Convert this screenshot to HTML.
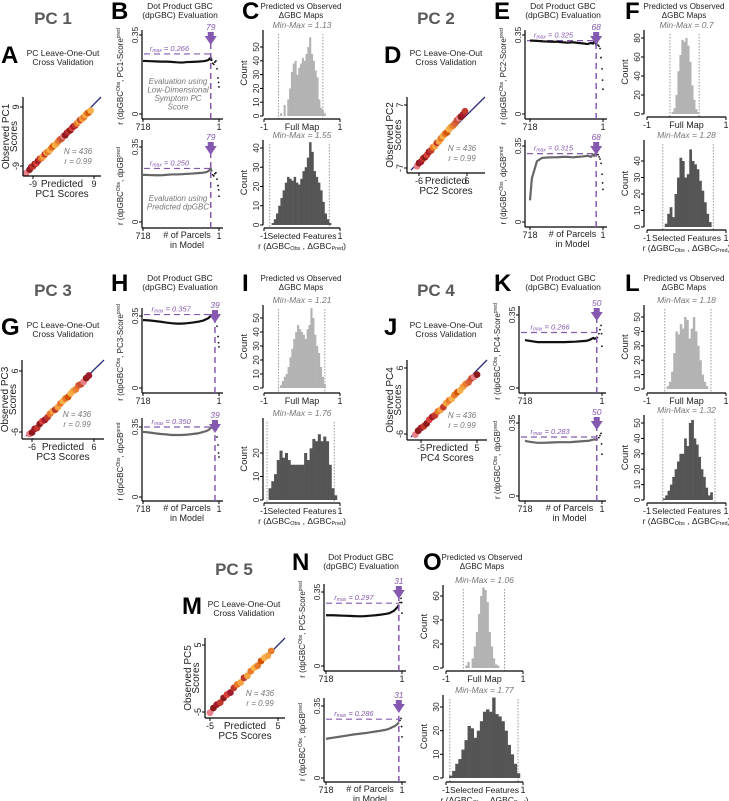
<!DOCTYPE html>
<html><head><meta charset="utf-8"><style>
html,body{margin:0;padding:0;background:#fff;}
svg{display:block;font-family:"Liberation Sans",Arial,sans-serif;}
</style></head><body>
<svg id="fig" width="729" height="801" viewBox="0 0 729 801" xmlns="http://www.w3.org/2000/svg"></svg>
<script>
// ---------- DATA ----------
const parcels = [718,700,650,600,550,500,450,400,350,300,250,200,150,120,100,90,80,70,60,50,40,30,20,10,5,1];
const pcNames = ['PC 1','PC 2','PC 3','PC 4','PC 5'];
const markers = [79,68,39,50,31];
const rmaxTop = [0.266,0.325,0.357,0.266,0.297];
const rmaxBottom = [0.250,0.315,0.350,0.283,0.286];
const minMaxFull = ['1.13','0.7','1.21','1.18','1.06'];
const minMaxSel = ['1.55','1.28','1.76','1.32','1.77'];

const pc1TopLine = [.235,.235,.234,.233,.232,.232,.231,.229,.228,.23,.231,.232,.234,.236,.24,.245,.25,.235,.225,.22,.23,.235,.2,.16,.14,.12];
const pc1BottomLine = [.22,.22,.219,.218,.218,.22,.222,.222,.223,.225,.226,.228,.23,.233,.238,.243,.25,.235,.22,.215,.225,.23,.2,.17,.15,.12];
const pc2TopLine = [.325,.325,.324,.322,.321,.32,.32,.318,.316,.318,.315,.313,.31,.315,.312,.318,.325,.31,.315,.305,.3,.29,.25,.2,.15,.11];
const pc2BottomLine = [.1,.2,.28,.295,.297,.298,.298,.3,.3,.298,.3,.302,.305,.3,.31,.305,.312,.315,.308,.31,.3,.29,.27,.22,.18,.15];
const pc3TopLine = [.33,.33,.328,.325,.322,.318,.315,.313,.313,.315,.318,.322,.328,.335,.34,.345,.35,.352,.355,.357,.357,.34,.3,.25,.22,.2];
const pc3BottomLine = [.325,.325,.322,.318,.315,.313,.31,.31,.31,.312,.315,.318,.325,.33,.335,.34,.345,.348,.35,.35,.35,.33,.3,.26,.22,.2];
const pc4TopLine = [.23,.228,.224,.22,.22,.22,.22,.22,.22,.221,.222,.224,.226,.23,.235,.238,.24,.236,.238,.24,.245,.26,.28,.3,.26,.2];
const pc4BottomLine = [.265,.262,.258,.255,.255,.256,.257,.258,.258,.258,.26,.262,.264,.265,.268,.27,.27,.272,.27,.272,.275,.28,.29,.3,.25,.2];
const pc5TopLine = [.24,.24,.24,.239,.238,.237,.236,.235,.236,.238,.24,.243,.247,.25,.255,.258,.26,.265,.27,.275,.28,.29,.3,.32,.3,.25];
const pc5BottomLine = [.19,.192,.196,.2,.204,.208,.212,.215,.218,.222,.226,.23,.235,.24,.245,.248,.25,.252,.256,.26,.265,.27,.28,.29,.25,.2];

const pc1HistFull = [2,0,8,0,12,20,32,38,40,30,35,38,42,40,45,50,57,45,40,33,28,12,6,4,2];
const pc1HistSel = [1,3,6,10,14,18,22,25,24,23,25,22,21,24,28,30,35,43,38,28,25,22,18,12,6,3,1];
const pc2HistFull = [2,6,20,45,62,78,76,80,72,55,30,15,5,2];
const pc2HistSel = [2,8,12,6,20,30,42,40,30,32,47,40,38,35,28,22,15,8,3];
const pc3HistFull = [2,5,8,10,15,22,28,35,40,45,42,40,38,35,42,45,57,50,38,30,25,15,8,3];
const pc3HistSel = [5,8,11,17,21,18,20,17,15,15,15,15,15,20,17,22,26,25,28,25,27,25,15,5,2];
const pc4HistFull = [2,5,12,25,40,38,45,42,50,48,35,42,50,40,30,20,10,5,2];
const pc4HistSel = [1,3,6,10,15,20,25,30,30,40,35,50,52,40,36,28,20,15,8,3,5];
const pc5HistFull = [2,5,0,8,18,30,45,60,67,65,55,30,18,8,3,2];
const pc5HistSel = [1,3,6,8,12,16,22,21,17,20,24,28,29,28,34,27,26,24,20,14,10,6,2];
const histFullStart = [-0.58,-0.38,-0.58,-0.5,-0.5];
const histFullWidth = [0.048,0.05,0.05,0.055,0.055];
const histSelStart = [-0.8,-0.55,-0.88,-0.6,-0.92];
const histSelWidth = [0.058,0.062,0.072,0.06,0.08];
const dottedFull = [[-0.62,0.55],[-0.42,0.32],[-0.62,0.6],[-0.55,0.62],[-0.55,0.52]];
const dottedSel = [[-0.85,0.72],[-0.6,0.68],[-0.92,0.85],[-0.6,0.72],[-0.9,0.87]];
const fullTicks = [[0,10,20,30,40,50],[0,20,40,60,80],[0,10,20,30,40,50],[0,10,20,30,40,50],[0,20,40,60]];
const selTicks = [[0,10,20,30,40],[0,10,20,30,40],[0,10,20],[0,10,20,30,40,50],[0,10,20,30]];

const pc1Pred = [-11,-10,-9.5,-9,-8.5,-8,-7.5,-7,-6.5,-6,-5.5,-5,-4.5,-4,-3.5,-3,-2.5,-2,-1.5,-1,-0.5,0,0.5,1,1.5,2,2.5,3,3.5,4,4.5,5,5.5,6,6.5,7,7.5,8];
const pc1Obs  = [-11.2,-10.1,-9.3,-9.1,-8.4,-8.2,-7.4,-6.8,-6.6,-6.1,-5.4,-4.9,-4.6,-4.1,-3.4,-2.9,-2.6,-2.1,-1.4,-0.9,-0.6,0.1,0.4,1.1,1.6,1.9,2.6,3.1,3.4,4.0,4.6,5.1,5.4,5.9,6.6,7.1,7.4,7.9];
const pc2Pred = [-6.5,-6,-5.5,-5,-4.5,-4,-3.5,-3,-2.5,-2,-1.5,-1,-0.5,0,0.5,1,1.5,2,2.5,3,3.5,4,4.5,5,5.5];
const pc2Obs  = [-6.6,-5.9,-5.6,-4.9,-4.6,-4.1,-3.4,-3.1,-2.4,-2.1,-1.4,-1.1,-0.4,0.1,0.6,0.9,1.6,2.1,2.4,2.9,3.6,4.1,4.4,4.9,5.6];
const pc3Pred = [-6.5,-6,-5.5,-5,-4.5,-4,-3.5,-3,-2.5,-2,-1.5,-1,-0.5,0,0.5,1,1.5,2,2.5,3,3.5,4,4.5,5];
const pc3Obs  = [-6.4,-6.1,-5.4,-5.2,-4.4,-3.9,-3.6,-3.1,-2.4,-1.9,-1.6,-1.1,-0.4,0.1,0.6,0.9,1.6,2.1,2.4,3.2,3.4,3.9,4.6,5.1];
const pc4Pred = [-6,-5.5,-5,-4.5,-4,-3.5,-3,-2.5,-2,-1.5,-1,-0.5,0,0.5,1,1.5,2,2.5,3,3.5,4,4.5,5];
const pc4Obs  = [-6.1,-5.4,-4.9,-4.6,-4.1,-3.4,-2.9,-2.6,-1.9,-1.6,-1.1,-0.4,0.1,0.4,1.1,1.6,1.9,2.6,3.1,3.4,4.1,4.4,4.8];
const pc5Pred = [-5,-4.5,-4,-3.5,-3,-2.5,-2,-1.5,-1,-0.5,0,0.5,1,1.5,2,2.5,3,3.5,4];
const pc5Obs  = [-5.1,-4.4,-3.9,-3.6,-2.9,-2.4,-2.1,-1.4,-0.9,-0.6,0.1,0.4,1.1,1.6,1.9,2.6,3.1,3.4,4.1];
const scatterColors = ['#e8808a','#8b1a1a','#a01c2c','#c0392b','#8b1a1a','#d9413a','#a01c2c','#c0392b','#e8782a','#f4a340','#c0392b','#f4a340','#e8782a','#f8b24c','#e8782a','#d35400','#f8b24c','#f4a340','#e88030','#d9603a','#c85030'];

// ---------- LAYOUT (positions only) ----------
const layout = [
 {dx:0,dy:0, sc:{l:23,r:101,t:97,b:176,xm:33,xp:94,ym:166,yp:107,tx:9,ty:9},
  lt:{sx:142,ax:119,x718:143,x1:219,y0:114,y35:35,top:30},
  lb:{sx:142,ax:228,x718:143,x1:219,y0:222,y35:147,top:140},
  ht:{sx:263,ax:119,xm:264,xp:340,y0:116,tv:50,ty:47,top:30},
  hb:{sx:263,ax:228,xm:264,xp:340,y0:225,tv:40,ty:148,top:140}},
 {dx:383,dy:0, sc:{l:407,r:485,t:97,b:173,xm:419,xp:467,ym:168,yp:105,tx:6,ty:7},
  lt:{sx:525,ax:119,x718:530,x1:603,y0:114,y35:35,top:30},
  lb:{sx:525,ax:227,x718:530,x1:603,y0:222,y35:146,top:140},
  ht:{sx:644,ax:117,xm:647,xp:726,y0:114,tv:80,ty:38,top:30},
  hb:{sx:644,ax:230,xm:647,xp:726,y0:227,tv:40,ty:161,top:140}},
 {dx:0,dy:272, sc:{l:22,r:104,t:360,b:439,xm:32,xp:94,ym:432,yp:371,tx:6,ty:6},
  lt:{sx:142,ax:393,x718:143,x1:219,y0:388,y35:316,top:308},
  lb:{sx:142,ax:501,x718:143,x1:219,y0:497,y35:427,top:418},
  ht:{sx:263,ax:393,xm:264,xp:340,y0:388,tv:50,ty:318,top:305},
  hb:{sx:263,ax:503,xm:264,xp:340,y0:500,tv:20,ty:453,top:418}},
 {dx:383,dy:272, sc:{l:407,r:487,t:360,b:440,xm:421,xp:477,ym:434,yp:368,tx:5,ty:6},
  lt:{sx:519,ax:393,x718:525,x1:602,y0:388,y35:315,top:306},
  lb:{sx:519,ax:501,x718:525,x1:602,y0:496,y35:423,top:415},
  ht:{sx:644,ax:393,xm:647,xp:726,y0:389,tv:50,ty:317,top:305},
  hb:{sx:644,ax:503,xm:647,xp:726,y0:500,tv:50,ty:423,top:415}},
 {dx:181,dy:551, sc:{l:205,r:285,t:638,b:718,xm:210,xp:278,ym:712,yp:645,tx:5,ty:5},
  lt:{sx:324,ax:671,x718:326,x1:402,y0:666,y35:592,top:584},
  lb:{sx:324,ax:782,x718:326,x1:402,y0:778,y35:706,top:698},
  ht:{sx:443,ax:671,xm:446,xp:523,y0:668,tv:60,ty:596,top:585},
  hb:{sx:443,ax:782,xm:446,xp:523,y0:778,tv:30,ty:707,top:695}}
];
const letters = [['A','B','C'],['D','E','F'],['G','H','I'],['J','K','L'],['M','N','O']];
const allTop=[pc1TopLine,pc2TopLine,pc3TopLine,pc4TopLine,pc5TopLine];
const allBot=[pc1BottomLine,pc2BottomLine,pc3BottomLine,pc4BottomLine,pc5BottomLine];
const allHF=[pc1HistFull,pc2HistFull,pc3HistFull,pc4HistFull,pc5HistFull];
const allHS=[pc1HistSel,pc2HistSel,pc3HistSel,pc4HistSel,pc5HistSel];
const allPred=[pc1Pred,pc2Pred,pc3Pred,pc4Pred,pc5Pred];
const allObs=[pc1Obs,pc2Obs,pc3Obs,pc4Obs,pc5Obs];

const NS='http://www.w3.org/2000/svg';
const svg=document.getElementById('fig');
const PURPLE='#8559b0';
function el(tag,attrs,parent){const e=document.createElementNS(NS,tag);for(const k in attrs)e.setAttribute(k,attrs[k]);(parent||svg).appendChild(e);return e;}
function txt(parent,x,y,s,o){o=o||{};const t=el('text',{x:x,y:y,'font-size':o.fs||9,'text-anchor':o.anchor||'middle',fill:o.fill||'#222'},parent);
 if(o.bold)t.setAttribute('font-weight','bold');if(o.italic)t.setAttribute('font-style','italic');
 if(o.rot)t.setAttribute('transform','rotate(-90 '+x+' '+y+')');
 if(o.html)t.innerHTML=s;else t.textContent=s;return t;}
function line(p,x1,y1,x2,y2,o){o=o||{};const l=el('line',{x1:x1,y1:y1,x2:x2,y2:y2,stroke:o.stroke||'#000','stroke-width':o.w||1},p);if(o.dash)l.setAttribute('stroke-dasharray',o.dash);return l;}

layout.forEach((L,i)=>{
 const g=el('g',{});
 
 
 const dx=L.dx,dy=L.dy,n=i+1;
 const tt=txt(g,53+dx,24+dy,pcNames[i],{fs:17,bold:true,fill:'#5a5a5a'});
 
 txt(g,1+dx,63+dy,letters[i][0],{fs:24,bold:true,anchor:'start',fill:'#000'});
 txt(g,63+dx,56+dy,'PC Leave-One-Out',{fs:8.5});
 txt(g,63+dx,65+dy,'Cross Validation',{fs:8.5});
 txt(g,111+dx,19+dy,letters[i][1],{fs:24,bold:true,anchor:'start',fill:'#000'});
 txt(g,180+dx,9+dy,'Dot Product GBC',{fs:8.5});
 txt(g,180+dx,18+dy,'(dpGBC) Evaluation',{fs:8.5});
 txt(g,242+dx,19+dy,letters[i][2],{fs:24,bold:true,anchor:'start',fill:'#000'});
 txt(g,301+dx,9+dy,'Predicted vs Observed',{fs:8});
 txt(g,301+dx,18+dy,'ΔGBC Maps',{fs:8});

 // scatter
 const S=L.sc;const sg=el('g',{},g);
 
 const sx=v=>S.xm+(v+S.tx)/(2*S.tx)*(S.xp-S.xm);
 const sy=v=>S.ym-(v+S.ty)/(2*S.ty)*(S.ym-S.yp);
 line(sg,S.l+4,S.b-3,S.r,S.t,{stroke:'#2b2f7a',w:1.3});
 allPred[i].forEach((p,k)=>{const c=el('circle',{cx:sx(p),cy:sy(allObs[i][k]),r:3.4,fill:scatterColors[k%scatterColors.length]},sg);
  });
 line(sg,S.l,S.t,S.l,S.b,{w:1.2});line(sg,S.l,S.b,S.r,S.b,{w:1.2});
 [[S.ym,-S.ty],[S.yp,S.ty]].forEach(([y,v])=>{line(sg,S.l-3,y,S.l,y);txt(sg,S.l-4,y,String(v),{fs:9,rot:true});});
 [[S.xm,-S.tx],[S.xp,S.tx]].forEach(([x,v])=>{line(sg,x,S.b,x,S.b+3);txt(sg,x,S.b+11,String(v),{fs:9});});
 const my=(S.t+S.b)/2;
 txt(sg,S.l-14,my,'Observed PC'+n,{fs:10,rot:true});
 txt(sg,S.l-6,my,'Scores',{fs:10,rot:true});
 txt(sg,(S.l+S.r)/2,S.b+11,'Predicted',{fs:10});
 txt(sg,(S.l+S.r)/2,S.b+21,'PC'+n+' Scores',{fs:10});
 txt(sg,S.l+55,S.b-22,'N = 436',{fs:8,italic:true,fill:'#777'});
 txt(sg,S.l+55,S.b-12,'r = 0.99',{fs:8,italic:true,fill:'#777'});

 // line plots
 [['top',L.lt,allTop[i],rmaxTop[i],'PC'+n+'-Score<tspan font-size="5" dy="-3">pred</tspan>'],
  ['bottom',L.lb,allBot[i],rmaxBottom[i],'dpGB<tspan font-size="5" dy="-3">pred</tspan>']].forEach(([nm,B,vals,rmax,lab])=>{
  const lg=el('g',{},g);
  
  const xs=p=>B.x718+(718-p)/717*(B.x1-B.x718);
  const ys=v=>B.y0-v*(B.y0-B.y35)/0.35;
  const mk=markers[i];
  line(lg,B.sx,B.top,B.sx,B.ax,{w:1.2});line(lg,B.sx,B.ax,B.x1+4,B.ax,{w:1.2});
  line(lg,B.sx+2,ys(rmax),xs(mk),ys(rmax),{stroke:PURPLE,w:1.2,dash:'6,4'});
  txt(lg,B.sx+(xs(mk)-B.sx)*0.4,ys(rmax)-3,'<tspan>r</tspan><tspan font-size="5" dy="1">max</tspan><tspan dy="-1"> = '+rmax.toFixed(3)+'</tspan>',{fs:7.5,italic:true,fill:PURPLE,html:true});
  let pts=[];parcels.forEach((p,k)=>{if(p>=mk-10)pts.push(xs(p)+','+ys(vals[k]));});
  const pl=el('polyline',{points:pts.join(' '),fill:'none',stroke:nm==='top'?'#111':'#666','stroke-width':2.2},lg);
  
  parcels.forEach((p,k)=>{if(p<mk-10){const c=el('circle',{cx:xs(p),cy:ys(vals[k]),r:0.9,fill:'#111'},lg);
   }});
  line(lg,xs(mk),B.ax,xs(mk),B.top+12,{stroke:PURPLE,w:1.5,dash:'6,4'});
  const tri=el('path',{d:'M'+(xs(mk)-6)+','+(B.top+6)+' L'+(xs(mk)+6)+','+(B.top+6)+' L'+xs(mk)+','+(B.top+15)+' Z',fill:PURPLE},lg);
  
  el('rect',{x:xs(mk)-3,y:B.top+2,width:6,height:5,fill:PURPLE},lg);
  txt(lg,xs(mk),B.top,String(mk),{fs:8.5,italic:true,fill:PURPLE});
  [[B.y0,'0'],[B.y35,'0.35']].forEach(([y,v])=>{line(lg,B.sx-3,y,B.sx,y);txt(lg,B.sx-4,y,v,{fs:8.5,rot:true});});
  [[B.x718,'718'],[B.x1,'1']].forEach(([x,v])=>{line(lg,x,B.ax,x,B.ax+3);txt(lg,x,B.ax+11,v,{fs:9});});
  txt(lg,B.sx-19,(B.top+B.ax)/2+2,'r (dpGBC<tspan font-size="5" dy="-3">Obs</tspan><tspan dy="3">, </tspan>'+lab,{fs:8,rot:true,html:true});
  if(nm==='bottom'){txt(lg,(B.x718+B.x1)/2+6,B.ax+10,'# of Parcels',{fs:9});txt(lg,(B.x718+B.x1)/2+6,B.ax+20,'in Model',{fs:9});}
  if(i===0&&nm==='top'){['Evaluation using','Low-Dimensional','Symptom PC','Score'].forEach((s,k)=>txt(lg,178,84+k*8.5,s,{fs:8,italic:true,fill:'#777'}));}
  if(i===0&&nm==='bottom'){['Evaluation using','Predicted dpGBC'].forEach((s,k)=>txt(lg,178,201+k*8.5,s,{fs:8,italic:true,fill:'#777'}));}
 });

 // histograms
 [['full',L.ht,allHF[i],histFullStart[i],histFullWidth[i],dottedFull[i],fullTicks[i],'#b3b3b3','Min-Max = '+minMaxFull[i]],
  ['selected',L.hb,allHS[i],histSelStart[i],histSelWidth[i],dottedSel[i],selTicks[i],'#555','Min-Max = '+minMaxSel[i]]].forEach(([nm,H,cnt,st,w,dots,ticks,col,mm])=>{
  const hg=el('g',{},g);
  
  const hx=v=>H.xm+(v+1)/2*(H.xp-H.xm);
  const hy=c=>H.y0-c*(H.y0-H.ty)/H.tv;
  dots.forEach(v=>line(hg,hx(v),H.top+4,hx(v),H.ax,{stroke:'#999',w:1,dash:'1.5,1.5'}));
  cnt.forEach((c,k)=>{if(c<=0)return;const x0=hx(st+k*w),x1=hx(st+(k+1)*w);
   const r=el('rect',{x:x0,y:hy(c),width:x1-x0+0.3,height:H.y0-hy(c),fill:col},hg);
   });
  line(hg,H.sx,H.top,H.sx,H.y0,{w:1.2});line(hg,H.xm,H.ax,H.xp,H.ax,{w:1.2});
  ticks.forEach(t=>{const y=hy(t);line(hg,H.sx-3,y,H.sx,y);txt(hg,H.sx-4,y,String(t),{fs:8.5,rot:true});});
  [[H.xm,'-1'],[H.xp,'1']].forEach(([x,v])=>{line(hg,x,H.ax,x,H.ax+3);txt(hg,x,H.ax+11,v,{fs:9});});
  txt(hg,H.sx-16,(H.top+H.y0)/2,'Count',{fs:9.5,rot:true});
  txt(hg,(H.xm+H.xp)/2,H.top-2,mm,{fs:8.5,italic:true,fill:'#777'});
  if(nm==='full')txt(hg,(H.xm+H.xp)/2,H.ax+11,'Full Map',{fs:9});
  else{txt(hg,(H.xm+H.xp)/2,H.ax+11,'Selected Features',{fs:8.5});
   txt(hg,(H.xm+H.xp)/2,H.ax+21,'r (ΔGBC<tspan font-size="5.5" dy="1">Obs</tspan><tspan dy="-1"> , ΔGBC</tspan><tspan font-size="5.5" dy="1">Pred</tspan><tspan dy="-1">)</tspan>',{fs:8.5,html:true});}
 });
});
</script>
</body></html>
